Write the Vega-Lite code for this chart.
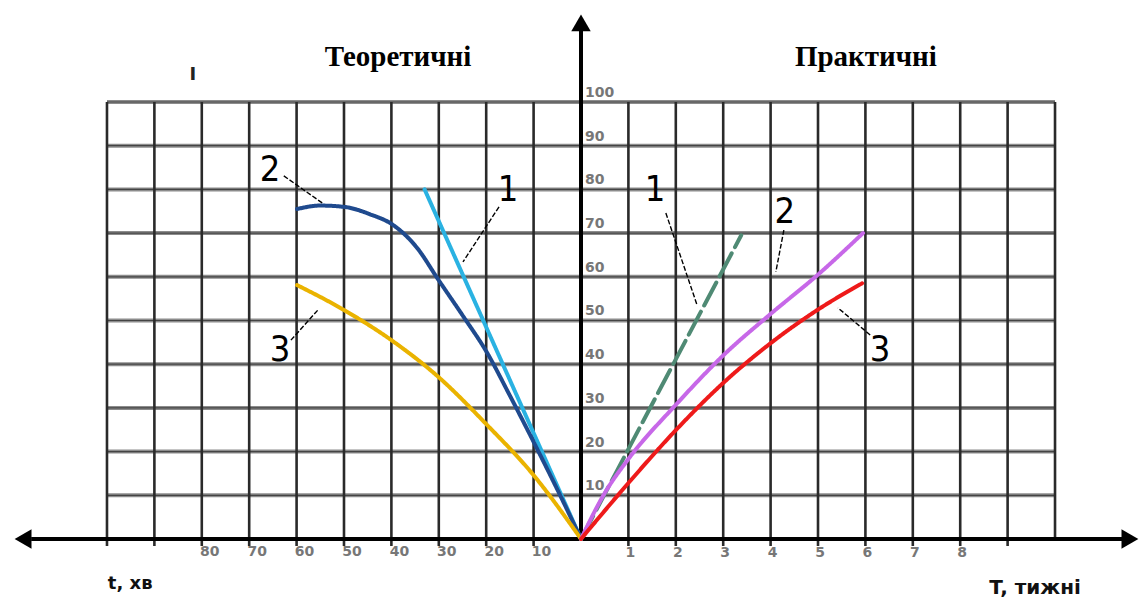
{
  "$schema": "https://vega.github.io/schema/vega-lite/v6.json",
  "width": 1142,
  "height": 601,
  "padding": 0,
  "autosize": {"type": "none"},
  "background": "white",
  "config": {"view": {"stroke": null}},
  "datasets": {
    "hgrid": [
      {"v": 10, "u1": -10, "u2": 10}, {"v": 20, "u1": -10, "u2": 10},
      {"v": 30, "u1": -10, "u2": 10}, {"v": 40, "u1": -10, "u2": 10},
      {"v": 50, "u1": -10, "u2": 10}, {"v": 60, "u1": -10, "u2": 10},
      {"v": 70, "u1": -10, "u2": 10}, {"v": 80, "u1": -10, "u2": 10},
      {"v": 90, "u1": -10, "u2": 10}, {"v": 100, "u1": -10, "u2": 10}
    ],
    "vgrid": [
      {"u": -10, "v1": -1.6, "v2": 100}, {"u": -9, "v1": -1.6, "v2": 100},
      {"u": -8, "v1": -1.6, "v2": 100}, {"u": -7, "v1": -1.6, "v2": 100},
      {"u": -6, "v1": -1.6, "v2": 100}, {"u": -5, "v1": -1.6, "v2": 100},
      {"u": -4, "v1": -1.6, "v2": 100}, {"u": -3, "v1": -1.6, "v2": 100},
      {"u": -2, "v1": -1.6, "v2": 100}, {"u": -1, "v1": -1.6, "v2": 100},
      {"u": 1, "v1": -1.6, "v2": 100}, {"u": 2, "v1": -1.6, "v2": 100},
      {"u": 3, "v1": -1.6, "v2": 100}, {"u": 4, "v1": -1.6, "v2": 100},
      {"u": 5, "v1": -1.6, "v2": 100}, {"u": 6, "v1": -1.6, "v2": 100},
      {"u": 7, "v1": -1.6, "v2": 100}, {"u": 8, "v1": -1.6, "v2": 100},
      {"u": 9, "v1": -1.6, "v2": 100}, {"u": 10, "v1": 0, "v2": 100}
    ],
    "axes": [
      {"u1": -11.6, "v1": 0, "u2": 11.5, "v2": 0},
      {"u1": 0, "v1": 0, "u2": 0, "v2": 117}
    ],
    "arrows": [
      {"dir": "left", "u": -11.77, "v": 0},
      {"dir": "right", "u": 11.58, "v": 0},
      {"dir": "up", "u": 0, "v": 118.1}
    ],
    "curves": [
      {"series": "c1", "u": -3.3, "v": 80}, {"series": "c1", "u": 0, "v": 0},
      {"series": "c2", "u": -5.99, "v": 75.5}, {"series": "c2", "u": -5.5, "v": 76.3},
      {"series": "c2", "u": -5.0, "v": 76.0}, {"series": "c2", "u": -4.45, "v": 74.3},
      {"series": "c2", "u": -3.97, "v": 71.9}, {"series": "c2", "u": -3.45, "v": 66.5},
      {"series": "c2", "u": -3.02, "v": 59.5}, {"series": "c2", "u": -2.5, "v": 51.2},
      {"series": "c2", "u": -1.98, "v": 42.6}, {"series": "c2", "u": -1.5, "v": 32.8},
      {"series": "c2", "u": -0.86, "v": 19.2}, {"series": "c2", "u": -0.44, "v": 10},
      {"series": "c2", "u": 0, "v": 0},
      {"series": "c3", "u": -5.99, "v": 58.1}, {"series": "c3", "u": -5.0, "v": 52.4},
      {"series": "c3", "u": -4.0, "v": 45.5}, {"series": "c3", "u": -3.0, "v": 37.0},
      {"series": "c3", "u": -2.0, "v": 26.3}, {"series": "c3", "u": -1.0, "v": 14.6},
      {"series": "c3", "u": 0, "v": 0},
      {"series": "p1", "u": 0, "v": 0}, {"series": "p1", "u": 3.38, "v": 69.5},
      {"series": "p2", "u": 0, "v": 0}, {"series": "p2", "u": 0.5, "v": 10.5},
      {"series": "p2", "u": 1, "v": 18.3}, {"series": "p2", "u": 2, "v": 30.7},
      {"series": "p2", "u": 3, "v": 42.0}, {"series": "p2", "u": 4, "v": 51.5},
      {"series": "p2", "u": 5, "v": 60.5}, {"series": "p2", "u": 5.95, "v": 70},
      {"series": "p3", "u": 0, "v": 0}, {"series": "p3", "u": 1, "v": 12.8},
      {"series": "p3", "u": 2, "v": 24.9}, {"series": "p3", "u": 3, "v": 35.7},
      {"series": "p3", "u": 4, "v": 44.8}, {"series": "p3", "u": 5, "v": 52.5},
      {"series": "p3", "u": 5.93, "v": 58.5}
    ],
    "leaders": [
      {"u1": -6.27, "v1": 83.1, "u2": -5.46, "v2": 76.9},
      {"u1": -1.73, "v1": 76.0, "u2": -2.49, "v2": 63.4},
      {"u1": -6.12, "v1": 45.5, "u2": -5.55, "v2": 52.4},
      {"u1": 1.79, "v1": 74.6, "u2": 2.45, "v2": 53.5},
      {"u1": 4.28, "v1": 70.7, "u2": 4.11, "v2": 61.1},
      {"u1": 6.10, "v1": 46.7, "u2": 5.42, "v2": 52.9}
    ],
    "numbers": [
      {"label": "2", "u": -6.56, "v": 84.4},
      {"label": "1", "u": -1.54, "v": 79.9},
      {"label": "3", "u": -6.35, "v": 43.2},
      {"label": "1", "u": 1.56, "v": 79.9},
      {"label": "2", "u": 4.3, "v": 74.8},
      {"label": "3", "u": 6.31, "v": 43.2}
    ],
    "xleft": [
      {"label": "80", "u": -8}, {"label": "70", "u": -7}, {"label": "60", "u": -6},
      {"label": "50", "u": -5}, {"label": "40", "u": -4}, {"label": "30", "u": -3},
      {"label": "20", "u": -2}, {"label": "10", "u": -1}
    ],
    "xright": [
      {"label": "1", "u": 1}, {"label": "2", "u": 2}, {"label": "3", "u": 3},
      {"label": "4", "u": 4}, {"label": "5", "u": 5}, {"label": "6", "u": 6},
      {"label": "7", "u": 7}, {"label": "8", "u": 8}
    ],
    "yticks": [
      {"label": "10", "v": 10}, {"label": "20", "v": 20}, {"label": "30", "v": 30},
      {"label": "40", "v": 40}, {"label": "50", "v": 50}, {"label": "60", "v": 60},
      {"label": "70", "v": 70}, {"label": "80", "v": 80}, {"label": "90", "v": 90},
      {"label": "100", "v": 100}
    ],
    "titles": [
      {"label": "Теоретичні", "u": -3.86, "v": 110.3},
      {"label": "Практичні", "u": 6.01, "v": 110.3}
    ]
  },
  "layer": [
    {
      "data": {"name": "hgrid"},
      "mark": {"type": "rule", "color": "#8c8c8c", "strokeWidth": 4},
      "encoding": {
        "x": {"field": "u1", "type": "quantitative", "scale": {"domain": [-12.257, 11.835], "nice": false, "zero": false}, "axis": null},
        "x2": {"field": "u2"},
        "y": {"field": "v", "type": "quantitative", "scale": {"domain": [-14.19, 123.34], "nice": false, "zero": false}, "axis": null}
      }
    },
    {
      "data": {"name": "hgrid"},
      "mark": {"type": "rule", "color": "#444444", "strokeWidth": 1.2},
      "encoding": {
        "x": {"field": "u1", "type": "quantitative", "scale": {"domain": [-12.257, 11.835], "nice": false, "zero": false}, "axis": null},
        "x2": {"field": "u2"},
        "y": {"field": "v", "type": "quantitative", "scale": {"domain": [-14.19, 123.34], "nice": false, "zero": false}, "axis": null}
      }
    },
    {
      "data": {"name": "vgrid"},
      "mark": {"type": "rule", "color": "#2a2a2a", "strokeWidth": 2.6},
      "encoding": {
        "x": {"field": "u", "type": "quantitative", "scale": {"domain": [-12.257, 11.835], "nice": false, "zero": false}, "axis": null},
        "y": {"field": "v1", "type": "quantitative", "scale": {"domain": [-14.19, 123.34], "nice": false, "zero": false}, "axis": null},
        "y2": {"field": "v2"}
      }
    },
    {
      "data": {"name": "axes"},
      "mark": {"type": "rule", "color": "#000000", "strokeWidth": 4},
      "encoding": {
        "x": {"field": "u1", "type": "quantitative", "scale": {"domain": [-12.257, 11.835], "nice": false, "zero": false}, "axis": null},
        "x2": {"field": "u2"},
        "y": {"field": "v1", "type": "quantitative", "scale": {"domain": [-14.19, 123.34], "nice": false, "zero": false}, "axis": null},
        "y2": {"field": "v2"}
      }
    },
    {
      "data": {"name": "arrows"},
      "mark": {"type": "point", "filled": true, "color": "#000000", "opacity": 1, "size": 380},
      "encoding": {
        "x": {"field": "u", "type": "quantitative", "scale": {"domain": [-12.257, 11.835], "nice": false, "zero": false}, "axis": null},
        "y": {"field": "v", "type": "quantitative", "scale": {"domain": [-14.19, 123.34], "nice": false, "zero": false}, "axis": null},
        "shape": {"field": "dir", "type": "nominal", "legend": null, "scale": {"domain": ["left", "right", "up"], "range": ["triangle-left", "triangle-right", "triangle-up"]}}
      }
    },
    {
      "data": {"name": "curves"},
      "mark": {"type": "line", "strokeWidth": 4, "interpolate": "monotone", "strokeCap": "round"},
      "encoding": {
        "x": {"field": "u", "type": "quantitative", "scale": {"domain": [-12.257, 11.835], "nice": false, "zero": false}, "axis": null},
        "y": {"field": "v", "type": "quantitative", "scale": {"domain": [-14.19, 123.34], "nice": false, "zero": false}, "axis": null},
        "color": {"field": "series", "type": "nominal", "legend": null, "scale": {"domain": ["c1", "c2", "c3", "p1", "p2", "p3"], "range": ["#2ab2e2", "#1f4a8e", "#eab300", "#4f8a74", "#c768e8", "#ee1a1a"]}},
        "strokeDash": {"field": "series", "type": "nominal", "legend": null, "scale": {"domain": ["c1", "c2", "c3", "p1", "p2", "p3"], "range": [[1, 0], [1, 0], [1, 0], [26, 7], [1, 0], [1, 0]]}}
      }
    },
    {
      "data": {"name": "leaders"},
      "mark": {"type": "rule", "color": "#000000", "strokeWidth": 1.4, "strokeDash": [5, 2]},
      "encoding": {
        "x": {"field": "u1", "type": "quantitative", "scale": {"domain": [-12.257, 11.835], "nice": false, "zero": false}, "axis": null},
        "x2": {"field": "u2"},
        "y": {"field": "v1", "type": "quantitative", "scale": {"domain": [-14.19, 123.34], "nice": false, "zero": false}, "axis": null},
        "y2": {"field": "v2"}
      }
    },
    {
      "data": {"name": "numbers"},
      "mark": {"type": "text", "font": "DejaVu Sans Condensed, Liberation Sans Narrow, Liberation Sans", "fontSize": 36, "color": "#000000", "align": "center", "baseline": "middle"},
      "encoding": {
        "x": {"field": "u", "type": "quantitative", "scale": {"domain": [-12.257, 11.835], "nice": false, "zero": false}, "axis": null},
        "y": {"field": "v", "type": "quantitative", "scale": {"domain": [-14.19, 123.34], "nice": false, "zero": false}, "axis": null},
        "text": {"field": "label"}
      }
    },
    {
      "data": {"name": "xleft"},
      "transform": [{"calculate": "0", "as": "v"}],
      "mark": {"type": "text", "font": "DejaVu Sans", "fontSize": 14, "fontWeight": "bold", "color": "#777777", "align": "center", "baseline": "middle", "dx": 8, "dy": 13},
      "encoding": {
        "x": {"field": "u", "type": "quantitative", "scale": {"domain": [-12.257, 11.835], "nice": false, "zero": false}, "axis": null},
        "y": {"field": "v", "type": "quantitative", "scale": {"domain": [-14.19, 123.34], "nice": false, "zero": false}, "axis": null},
        "text": {"field": "label"}
      }
    },
    {
      "data": {"name": "xright"},
      "transform": [{"calculate": "0", "as": "v"}],
      "mark": {"type": "text", "font": "DejaVu Sans", "fontSize": 14, "fontWeight": "bold", "color": "#777777", "align": "center", "baseline": "middle", "dx": 2, "dy": 14},
      "encoding": {
        "x": {"field": "u", "type": "quantitative", "scale": {"domain": [-12.257, 11.835], "nice": false, "zero": false}, "axis": null},
        "y": {"field": "v", "type": "quantitative", "scale": {"domain": [-14.19, 123.34], "nice": false, "zero": false}, "axis": null},
        "text": {"field": "label"}
      }
    },
    {
      "data": {"name": "yticks"},
      "transform": [{"calculate": "0", "as": "u"}],
      "mark": {"type": "text", "font": "DejaVu Sans", "fontSize": 14, "fontWeight": "bold", "color": "#777777", "align": "left", "baseline": "middle", "dx": 4, "dy": -9},
      "encoding": {
        "x": {"field": "u", "type": "quantitative", "scale": {"domain": [-12.257, 11.835], "nice": false, "zero": false}, "axis": null},
        "y": {"field": "v", "type": "quantitative", "scale": {"domain": [-14.19, 123.34], "nice": false, "zero": false}, "axis": null},
        "text": {"field": "label"}
      }
    },
    {
      "data": {"name": "titles"},
      "mark": {"type": "text", "font": "Liberation Serif", "fontSize": 29, "fontWeight": "bold", "color": "#000000", "align": "center", "baseline": "middle"},
      "encoding": {
        "x": {"field": "u", "type": "quantitative", "scale": {"domain": [-12.257, 11.835], "nice": false, "zero": false}, "axis": null},
        "y": {"field": "v", "type": "quantitative", "scale": {"domain": [-14.19, 123.34], "nice": false, "zero": false}, "axis": null},
        "text": {"field": "label"}
      }
    },
    {
      "data": {"values": [{"label": "t, хв", "u": -9.51, "v": -10.4}]},
      "mark": {"type": "text", "font": "DejaVu Sans", "fontSize": 18, "fontWeight": "bold", "color": "#111111", "align": "center", "baseline": "middle"},
      "encoding": {
        "x": {"field": "u", "type": "quantitative", "scale": {"domain": [-12.257, 11.835], "nice": false, "zero": false}, "axis": null},
        "y": {"field": "v", "type": "quantitative", "scale": {"domain": [-14.19, 123.34], "nice": false, "zero": false}, "axis": null},
        "text": {"field": "label"}
      }
    },
    {
      "data": {"values": [{"label": "T, тижні", "u": 9.58, "v": -11.2}]},
      "mark": {"type": "text", "font": "DejaVu Sans", "fontSize": 20, "fontWeight": "bold", "color": "#111111", "align": "center", "baseline": "middle"},
      "encoding": {
        "x": {"field": "u", "type": "quantitative", "scale": {"domain": [-12.257, 11.835], "nice": false, "zero": false}, "axis": null},
        "y": {"field": "v", "type": "quantitative", "scale": {"domain": [-14.19, 123.34], "nice": false, "zero": false}, "axis": null},
        "text": {"field": "label"}
      }
    },
    {
      "data": {"values": [{"label": "I", "u": -8.19, "v": 106.2}]},
      "mark": {"type": "text", "font": "DejaVu Sans", "fontSize": 18, "fontWeight": "bold", "color": "#222222", "align": "center", "baseline": "middle"},
      "encoding": {
        "x": {"field": "u", "type": "quantitative", "scale": {"domain": [-12.257, 11.835], "nice": false, "zero": false}, "axis": null},
        "y": {"field": "v", "type": "quantitative", "scale": {"domain": [-14.19, 123.34], "nice": false, "zero": false}, "axis": null},
        "text": {"field": "label"}
      }
    }
  ]
}
